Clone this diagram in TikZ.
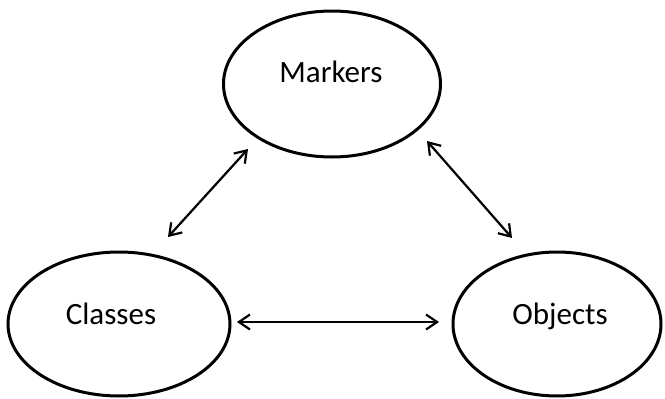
\documentclass[tikz,border=0pt]{standalone}
\usepackage{fontspec}
\setmainfont{Carlito}
\usetikzlibrary{shapes.geometric,arrows.meta}
\begin{document}
\begin{tikzpicture}[x=1pt,y=-1pt,
  ell/.style={draw=black,line width=3pt,ellipse,inner sep=0pt},
  lbl/.style={font=\fontsize{31}{36}\selectfont,anchor=base,inner sep=0pt},
  tip/.style={Straight Barb[length=11pt,width=15pt,line width=2.2pt]},
  conn/.style={line width=2.2pt,{Straight Barb[length=11pt,width=15pt,line width=2.2pt]}-{Straight Barb[length=11pt,width=15pt,line width=2.2pt]}}]
\useasboundingbox (0,0) rectangle (665,399);
\node[ell,minimum width=217pt,minimum height=146pt] (markers) at (332,84) {};
\node[ell,minimum width=222pt,minimum height=144pt] (classes) at (119,324) {};
\node[ell,minimum width=208pt,minimum height=144pt] (objects) at (557,324) {};
\node[lbl] (tm) at (331,82) {Markers};
\node[lbl] (tc) at (111,324) {Classes};
\node[lbl] (to) at (560,324) {Objects};
\coordinate (a1) at (248,149);
\coordinate (a2) at (168,237);
\coordinate (b1) at (427,141);
\coordinate (b2) at (512,238);
\coordinate (c1) at (237,322);
\coordinate (c2) at (439,322);
\draw[conn] (a1) -- (a2);
\draw[conn] (b1) -- (b2);
\draw[conn] (c1) -- (c2);
\end{tikzpicture}
\end{document}
